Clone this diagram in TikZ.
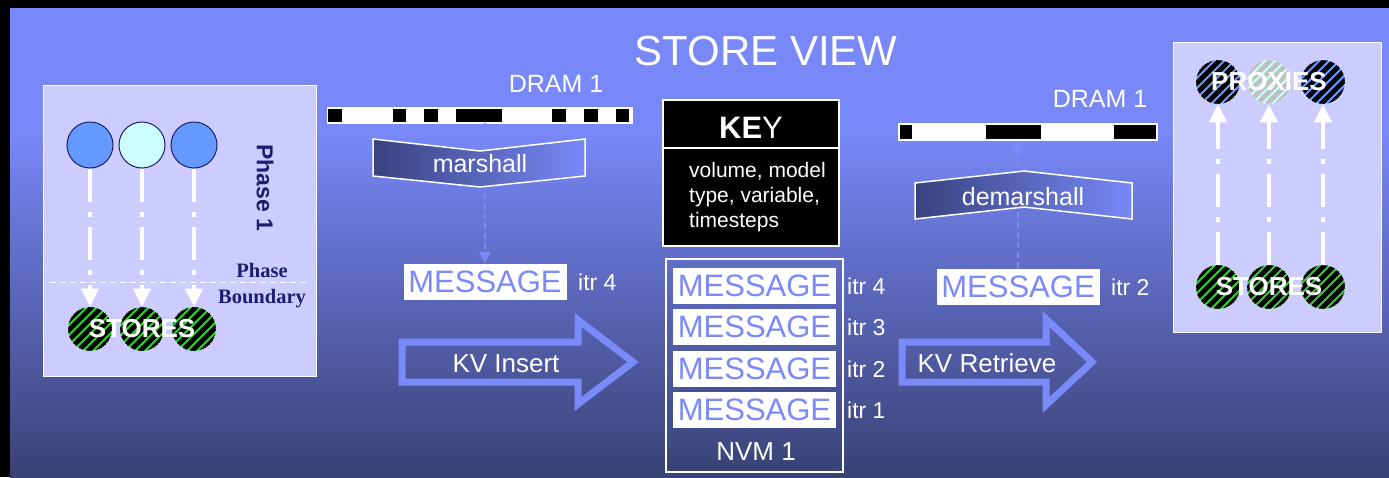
\documentclass[tikz,border=0pt]{standalone}
\usepackage{fontspec}
\setmainfont{Liberation Sans}
\newfontfamily\timesfont{Liberation Serif}
\usetikzlibrary{arrows.meta}

\definecolor{bgtop}{HTML}{7888F8}
\definecolor{bgbot}{HTML}{394274}
\definecolor{msgblue}{HTML}{7A8AF8}
\definecolor{panel}{HTML}{CCCCFF}
\definecolor{ballblue}{HTML}{6699FF}
\definecolor{ballcyan}{HTML}{CCFFFF}
\definecolor{navy}{HTML}{1C1C70}
\definecolor{storegreen}{HTML}{33CC33}
\definecolor{chevdark}{HTML}{38437E}
\definecolor{ghost}{HTML}{C0C0C0}

\pgfdeclareverticalshading{bgshade}{100bp}{color(0bp)=(bgbot); color(25bp)=(bgbot); color(62bp)=(bgtop); color(100bp)=(bgtop)}

\newcommand{\setfs}[1]{\fontsize{#1}{#1}\selectfont}

\tikzset{striped/.style 2 args={fill=#1, path picture={
  \foreach \k in {-7,...,7}
    \draw[#2, solid, line width=4.8pt] ([shift={(\k*10pt-40pt,-40pt)}]path picture bounding box.center) -- ++(80pt,80pt);}}}

\begin{document}
\begin{tikzpicture}[x=1pt,y=-1pt]
\tikzstyle{every node}+=[inner sep=0pt]
\tikzstyle{topball}=[circle, draw=navy, line width=1pt, minimum size=46pt]
\tikzstyle{stripeball}=[circle, draw=white, dotted, line width=0.6pt, minimum size=44pt]
\tikzstyle{balltext}=[text=white, font=\bfseries\setfs{26}]
\tikzstyle{flow}=[white, line width=4pt, dash pattern=on 33pt off 10pt on 5pt off 10pt, -{Triangle[length=18pt,width=17pt]}]
\tikzstyle{feed}=[msgblue, line width=1.2pt, dash pattern=on 6pt off 4pt, -{Triangle[length=12pt,width=11pt]}]
\tikzstyle{msgbox}=[fill=white, text=msgblue, font=\setfs{31}, minimum width=163pt, minimum height=36pt]
\tikzstyle{itr}=[anchor=west, text=white, font=\setfs{23}]
\tikzstyle{label}=[anchor=base, text=white, font=\setfs{25}]
\tikzstyle{bigarrow}=[draw=msgblue, line width=7pt, line join=miter]
\tikzstyle{chevron}=[draw=white, line width=1.5pt, left color=chevdark, right color=bgtop]
\useasboundingbox (0,0) rectangle (1389,477);

% background
\fill [black] (0,0) rectangle (1389,477);
\shade [shading=bgshade] (10,8) rectangle (1389,477);
\node [anchor=base, text=white, font=\setfs{42}] (title) at (766,65) {STORE VIEW};

% phase 1 panel
\draw [white, fill=panel, line width=1pt] (43,85) rectangle (316,376);
\node [topball, fill=ballblue] (c1) at (90,145) {};
\node [topball, fill=ballcyan] (c2) at (142,145) {};
\node [topball, fill=ballblue] (c3) at (194,145) {};
\node [rotate=-90, text=navy, font=\bfseries\setfs{23}] (ph1) at (265,188) {Phase 1};
\draw [white, line width=1pt, dash pattern=on 6pt off 4pt] (50,282) -- (310,282);
\node [anchor=base, text=navy, font=\timesfont\bfseries\setfs{20.5}] (pb1) at (262,277) {Phase};
\node [anchor=base, text=navy, font=\timesfont\bfseries\setfs{20.5}] (pb2) at (262,303) {Boundary};
\node [stripeball, striped={storegreen}{black}] (s1) at (90,329) {};
\node [stripeball, striped={storegreen}{black}] (s2) at (142,329) {};
\node [stripeball, striped={storegreen}{black}] (s3) at (194,329) {};
\foreach \i in {1,2,3}
  \draw [flow] (c\i) -- (s\i);
\node [balltext] (st1) at (s2) {STORES};

% marshall side
\node [draw=white, fill=white, line width=0.8pt, minimum width=305pt, minimum height=16pt] (dram1) at (479.5,115) {};
\foreach \a/\b in {328/342,393/406,424/438,456/502,552/566,584/598,616/629}
  \fill [black] (\a,109) rectangle (\b,122);
\node [label] (dl1) at (556,92) {DRAM 1};
\node [msgbox] (msgL) at (485,282) {MESSAGE};
\node [itr] (iL) at (578,282) {itr 4};
\draw [feed] (dram1.south -| msgL.north) -- (msgL.north);
\shadedraw [chevron] (373,139) -- (480,151) -- (585,139) -- (585,176) -- (480,187) -- (373,176) -- cycle;
\node [label] (marsh) at (480,172) {marshall};
\draw [bigarrow] (402,342) -- (578,342) -- (578,320) -- (633,362) -- (578,404) -- (578,382) -- (402,382) -- cycle;
\node [label, font=\setfs{26}] (kvi) at (506,372) {KV Insert};

% key and nvm
\node [draw=white, fill=black, line width=1.2pt, minimum width=176pt, minimum height=48pt, text height=28pt, text=white, font=\setfs{31}] (keyhead) at (751,124) {\textbf{KE}Y};
\node [draw=white, fill=black, line width=1.2pt, minimum width=176pt, minimum height=98pt] (keybody) at (751,197) {};
\node [anchor=north west, align=left, text=white, font=\fontsize{21}{25}\selectfont] (keytext) at (689,162) {volume, model\\type, variable,\\timesteps};
\node [draw=white, line width=1.2pt, minimum width=177pt, minimum height=213pt] (nvm) at (754.5,365.5) {};
\foreach \i/\y in {4/286,3/327,2/369,1/410}{
  \node [msgbox] (m\i) at (754.5,\y) {MESSAGE};
  \node [itr] (it\i) at (847,\y) {itr \i};
}
\node [anchor=base, text=white, font=\setfs{26}] (nvmlab) at (756,460) {NVM 1};

% demarshall side
\node [draw=white, fill=white, line width=0.8pt, minimum width=259pt, minimum height=17pt] (dram2) at (1027.5,131.5) {};
\foreach \a/\b in {900/912,986/1041,1114/1156}
  \fill [black] (\a,125) rectangle (\b,139);
\node [label] (dl2) at (1100,107) {DRAM 1};
\node [msgbox] (msgR) at (1018,286.5) {MESSAGE};
\node [itr] (iR) at (1111,287) {itr 2};
\draw [feed] (msgR.north) -- (msgR.north |- dram2.south);
\shadedraw [chevron] (915,183) -- (1024,171) -- (1132,183) -- (1132,219) -- (1024,207) -- (915,219) -- cycle;
\node [label] (demarsh) at (1023,205) {demarshall};
\draw [bigarrow] (902,342) -- (1046,342) -- (1046,319) -- (1092,362) -- (1046,405) -- (1046,382) -- (902,382) -- cycle;
\node [label, font=\setfs{26}] (kvr) at (987,372) {KV Retrieve};

% proxies panel
\draw [white, fill=panel, line width=1pt] (1173,42) rectangle (1381,332);
\node [stripeball, striped={ballblue}{black}] (p1) at (1218,82) {};
\node [stripeball, striped={ballcyan}{ghost}] (p2) at (1269,82) {};
\node [stripeball, striped={ballblue}{black}] (p3) at (1323,82) {};
\node [stripeball, striped={storegreen}{black}] (r1) at (1218,287) {};
\node [stripeball, striped={storegreen}{black}] (r2) at (1269,287) {};
\node [stripeball, striped={storegreen}{black}] (r3) at (1323,287) {};
\foreach \i in {1,2,3}
  \draw [flow] (r\i) -- (p\i);
\node [balltext] (prx) at (p2) {PROXIES};
\node [balltext] (st2) at (r2) {STORES};
\end{tikzpicture}
\end{document}
